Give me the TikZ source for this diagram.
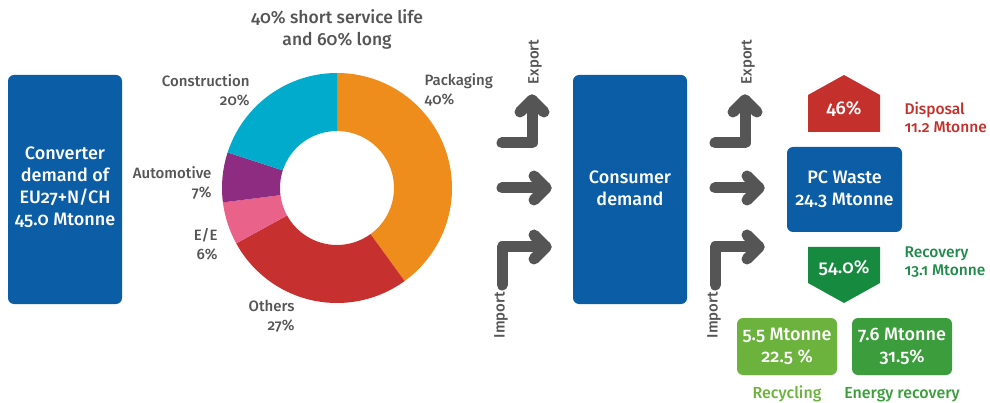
\documentclass[tikz,border=0pt]{standalone}
\usepackage{fontspec}
\setmainfont{Fira Sans}[Numbers=OldStyle, UprightFont={* Medium}]
\definecolor{boxblue}{RGB}{11,93,166}
\definecolor{txtgray}{RGB}{85,85,85}
\definecolor{arrgray}{RGB}{85,85,85}
\definecolor{cpack}{RGB}{238,140,28}
\definecolor{cother}{RGB}{198,48,46}
\definecolor{cee}{RGB}{232,98,138}
\definecolor{cauto}{RGB}{142,44,130}
\definecolor{cconst}{RGB}{0,171,203}
\definecolor{dispred}{RGB}{196,48,43}
\definecolor{recgreen}{RGB}{22,138,62}
\definecolor{recytxt}{RGB}{32,138,74}
\definecolor{recylight}{RGB}{108,179,62}
\definecolor{energygreen}{RGB}{59,157,59}
\tikzset{
  bluebox/.style={text=white, align=center, font=\fontsize{18}{22}\selectfont},
  seglabel/.style={text=txtgray, font=\fontsize{15}{19}\selectfont},
  flowarrow/.style={draw=arrgray, line width=11pt, line cap=round, line join=round},
  rotlabel/.style={text=txtgray, rotate=90, font=\fontsize{15}{17}\selectfont},
  greenbox/.style={text=white, align=center, font=\fontsize{18}{22}\selectfont},
  sidelabel/.style={align=left, anchor=west, font=\fontsize{15.5}{18}\selectfont},
}
\begin{document}
\begin{tikzpicture}[x=1pt,y=-1pt]
\useasboundingbox (0,0) rectangle (990,403);
% left box
\fill[boxblue, rounded corners=6pt] (8,75) rectangle (122,304);
\node[bluebox] (conv) at (65,187) {Converter\\demand of\\EU27+N/CH\\45.0 Mtonne};
% title
\node[text=txtgray, align=center, font=\fontsize{17.5}{22}\selectfont] (title) at (337,29) {40\% short service life\\and 60\% long};
% donut
\begin{scope}[shift={(337,188)}, yscale=-1]
\def\Ro{115}\def\Ri{57}
\fill[cpack] (90:\Ro) arc[start angle=90, end angle=-54, radius=\Ro] -- (-54:\Ri) arc[start angle=-54, end angle=90, radius=\Ri] -- cycle;
\fill[cother] (-54:\Ro) arc[start angle=-54, end angle=-151.2, radius=\Ro] -- (-151.2:\Ri) arc[start angle=-151.2, end angle=-54, radius=\Ri] -- cycle;
\fill[cee] (-151.2:\Ro) arc[start angle=-151.2, end angle=-172.8, radius=\Ro] -- (-172.8:\Ri) arc[start angle=-172.8, end angle=-151.2, radius=\Ri] -- cycle;
\fill[cauto] (-172.8:\Ro) arc[start angle=-172.8, end angle=-198, radius=\Ro] -- (-198:\Ri) arc[start angle=-198, end angle=-172.8, radius=\Ri] -- cycle;
\fill[cconst] (-198:\Ro) arc[start angle=-198, end angle=-270, radius=\Ro] -- (-270:\Ri) arc[start angle=-270, end angle=-198, radius=\Ri] -- cycle;
\end{scope}
\node[seglabel, align=right, anchor=east] (lconst) at (253,90) {Construction\\20\%};
\node[seglabel, align=left, anchor=west] (lpack) at (421,90) {Packaging\\40\%};
\node[seglabel, align=right, anchor=east] (lauto) at (215,183) {Automotive\\7\%};
\node[seglabel, align=right, anchor=east] (lee) at (221,244) {E/E\\6\%};
\node[seglabel, align=right, anchor=east] (loth) at (298,316) {Others\\27\%};
% arrows set A and B
\foreach \dx/\nm in {0/a,213/b}{
  \begin{scope}[shift={(\dx,0)}]
  \coordinate (ex1\nm) at (502,143); \coordinate (ex2\nm) at (532,143); \coordinate (ex3\nm) at (532,100);
  \draw[flowarrow] (ex1\nm) -- (ex2\nm) -- (ex3\nm);
  \draw[flowarrow] (520,112) -- (ex3\nm) -- (544,112);
  \coordinate (mi1\nm) at (502,188); \coordinate (mi2\nm) at (546,188);
  \draw[flowarrow] (mi1\nm) -- (mi2\nm);
  \draw[flowarrow] (534,176) -- (mi2\nm) -- (534,200);
  \coordinate (im1\nm) at (502,285); \coordinate (im2\nm) at (502,247); \coordinate (im3\nm) at (546,247);
  \draw[flowarrow] (im1\nm) -- (im2\nm) -- (im3\nm);
  \draw[flowarrow] (534,235) -- (im3\nm) -- (534,259);
  \node[rotlabel] (exl\nm) at (535,62) {Export};
  \node[rotlabel] (iml\nm) at (501,315) {Import};
  \end{scope}
}
% consumer demand
\fill[boxblue, rounded corners=6pt] (573,75) rectangle (687,304);
\node[bluebox] (cons) at (630,188) {Consumer\\demand};
% PC waste
\fill[boxblue, rounded corners=6pt] (787,147) rectangle (902,232);
\node[bluebox] (pcw) at (844.5,189) {PC Waste\\24.3 Mtonne};
% disposal
\fill[dispred] (808,132) -- (808,95) -- (844,75) -- (880,95) -- (880,132) -- cycle;
\node[text=white, font=\fontsize{18.5}{22}\selectfont] (p46) at (844,109) {46\%};
\node[sidelabel, text=dispred] (disp) at (901,117) {Disposal\\11.2 Mtonne};
% recovery
\fill[recgreen] (808,247) -- (880,247) -- (880,283) -- (844,303) -- (808,283) -- cycle;
\node[text=white, font=\fontsize{18.5}{22}\selectfont] (p54) at (844,268) {54.0\%};
\node[sidelabel, text=recytxt] (reco) at (901,262) {Recovery\\13.1 Mtonne};
% recycling / energy
\fill[recylight, rounded corners=6pt] (737,318) rectangle (837,375);
\node[greenbox] (recy) at (787,346) {5.5 Mtonne\\22.5 \%};
\fill[energygreen, rounded corners=6pt] (852,318) rectangle (952,375);
\node[greenbox] (ener) at (902,346) {7.6 Mtonne\\31.5\%};
\node[text=recylight, font=\fontsize{16}{18}\selectfont] (lrecy) at (787,394) {Recycling};
\node[text=energygreen, font=\fontsize{16}{18}\selectfont] (lener) at (902,395) {Energy recovery};
\end{tikzpicture}
\end{document}
